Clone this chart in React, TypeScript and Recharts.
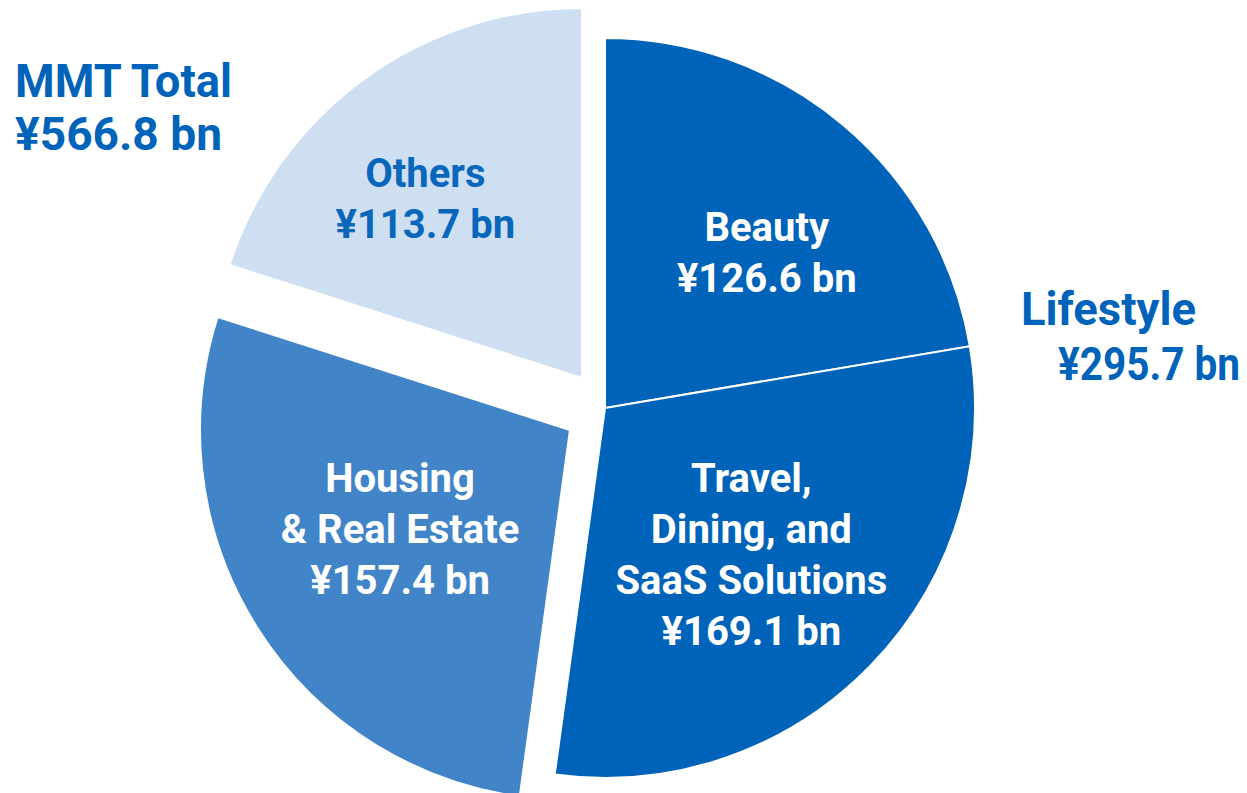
import React from 'react';
import { PieChart, Pie, Cell } from 'recharts';

// segment values, ¥ bn
const segmentNames = ['Beauty', 'Travel, Dining, and SaaS Solutions', 'Housing & Real Estate', 'Others'];
const segmentValues = [126.6, 169.1, 157.4, 113.7];
const segmentGroups = ['lifestyle', 'lifestyle', 'housing', 'others'];
// label lines drawn inside each slice
const segmentLabelLines = [
  ['Beauty', '¥126.6 bn'],
  ['Travel,', 'Dining, and', 'SaaS Solutions', '¥169.1 bn'],
  ['Housing', '& Real Estate', '¥157.4 bn'],
  ['Others', '¥113.7 bn'],
];
const totalLines = ['MMT Total', '¥566.8 bn'];
const lifestyleLines = ['Lifestyle', '¥295.7 bn'];

const DARK = '#0063BA';
const MID = '#4185C8';
const LIGHT = '#CDDFF1';
const FONT = 'Roboto, "Noto Sans", sans-serif';

const fills = [DARK, DARK, MID, LIGHT];
const labelColors = ['#ffffff', '#ffffff', '#ffffff', '#0866BB'];

// exploded layers: each group is drawn by its own Pie with a shifted centre
const layers = [
  { group: 'lifestyle', cx: 605, cy: 408 },
  { group: 'housing', cx: 570, cy: 430 },
  { group: 'others', cx: 582, cy: 378 },
];
const RADIUS = 370;
const LABEL_RADIUS = 215;
const labelNudge = [
  { dx: 23, dy: 9 },
  { dx: -8, dy: -3 },
  { dx: 12, dy: -16 },
  { dx: -30, dy: -6 },
];
const LINE_H = 51;

const chartData = segmentNames.map((name, i) => ({
  name,
  value: segmentValues[i],
  group: segmentGroups[i],
}));

const makeLabel = (group: string) => (props: any) => {
  const { cx, cy, midAngle, index } = props;
  if (segmentGroups[index] !== group) return null;
  const rad = Math.PI / 180;
  const x = cx + LABEL_RADIUS * Math.cos(-midAngle * rad) + labelNudge[index].dx;
  const y = cy + LABEL_RADIUS * Math.sin(-midAngle * rad) + labelNudge[index].dy;
  const lines = segmentLabelLines[index];
  const firstBaseline = y - ((lines.length - 1) * LINE_H) / 2 + 14;
  return (
    <text
      key={`lbl-${index}`}
      x={x}
      y={firstBaseline}
      textAnchor="middle"
      fill={labelColors[index]}
      fontFamily={FONT}
      fontWeight={700}
      fontSize={40}
    >
      {lines.map((line, i) => (
        <tspan key={i} x={x} y={firstBaseline + i * LINE_H}>
          {line}
        </tspan>
      ))}
    </text>
  );
};

const outerText = { fill: DARK, fontFamily: FONT, fontWeight: 700, fontSize: 46, lengthAdjust: 'spacingAndGlyphs' as const };

export default function App() {
  return (
    <div style={{ position: 'absolute', left: 0, top: 0, width: 1247, height: 793, background: '#fff' }}>
      <PieChart width={1247} height={793} margin={{ top: 0, right: 0, bottom: 0, left: 0 }}>
        {layers.map((layer) => (
          <Pie
            key={layer.group}
            data={chartData}
            dataKey="value"
            nameKey="name"
            cx={layer.cx}
            cy={layer.cy}
            outerRadius={RADIUS}
            innerRadius={0}
            startAngle={90}
            endAngle={-270}
            isAnimationActive={false}
            label={makeLabel(layer.group)}
            labelLine={false}
          >
            {chartData.map((d, i) => {
              const visible = d.group === layer.group;
              return (
                <Cell
                  key={i}
                  fill={visible ? fills[i] : 'none'}
                  stroke={visible ? '#ffffff' : 'none'}
                  strokeWidth={visible ? 2 : 0}
                />
              );
            })}
          </Pie>
        ))}
        <text {...outerText} x={15} y={97} textLength={217}>{totalLines[0]}</text>
        <text {...outerText} x={15} y={150} textLength={207}>{totalLines[1]}</text>
        <text {...outerText} x={1021} y={325} textLength={175}>{lifestyleLines[0]}</text>
        <text {...outerText} x={1058} y={380} textLength={182}>{lifestyleLines[1]}</text>
      </PieChart>
    </div>
  );
}
